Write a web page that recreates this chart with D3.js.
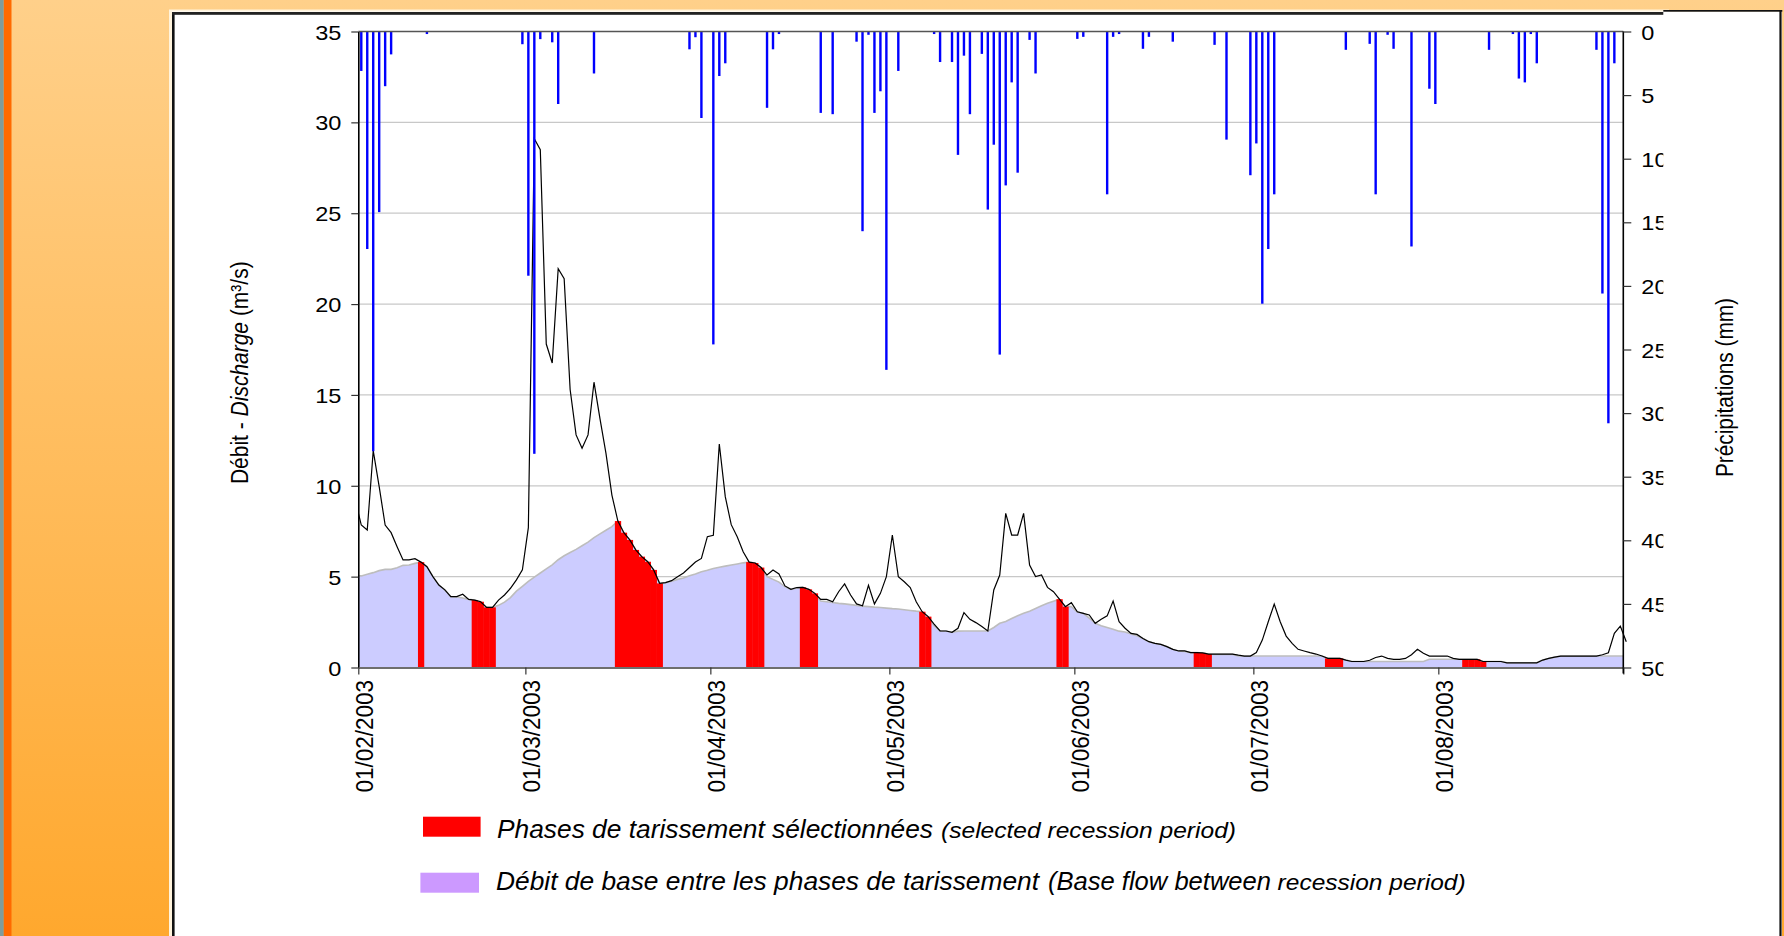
<!DOCTYPE html>
<html><head><meta charset="utf-8">
<script src="https://cdn.jsdelivr.net/npm/d3@7"></script>
<style>
html,body{margin:0;padding:0;background:#fff;}
svg{display:block;}
text{font-family:"Liberation Sans", Arial, sans-serif;fill:#000;}
</style></head><body>
<svg id="chart" width="1784" height="936"></svg>
<script>
// ---------------- DATA ----------------
// Daily discharge (m3/s), from 31/01/2003 to 01/09/2003 (edges are clipped by the plot)
const dischargeStart = "2003-01-31";
const discharge = [9.2,
  7.84, 7.57, 11.93, 9.95, 7.84, 7.42, 6.65, 5.92, 5.92, 5.99,
  5.8, 5.55, 5.0, 4.54, 4.27, 3.9, 3.9, 4.03, 3.75, 3.71,
  3.62, 3.31, 3.31, 3.71, 3.99, 4.36, 4.82, 5.37, 7.7, 29.1,
  28.5, 17.8, 16.76, 21.95, 21.4, 15.3, 12.8, 12.06, 12.8, 15.7,
  13.7, 11.8, 9.49, 8.06, 7.42, 7.02, 6.47, 6.1, 5.82, 5.37,
  4.63, 4.67, 4.78, 5.0, 5.2, 5.5, 5.8, 6.0, 7.2, 7.28,
  12.3, 9.4, 7.86, 7.2, 6.37, 5.8, 5.75, 5.5, 5.09, 5.37,
  5.15, 4.49, 4.3, 4.4, 4.41, 4.3, 4.08, 3.75, 3.75, 3.62,
  4.17, 4.6, 3.99, 3.5, 3.4, 4.52, 3.5, 4.08, 5.0, 7.29,
  5.0, 4.72, 4.4, 3.62, 3.07, 2.8, 2.39, 2.01, 2.01, 1.94,
  2.16, 3.02, 2.65, 2.47, 2.25, 2.01, 4.27, 5.09, 8.48, 7.29,
  7.29, 8.48, 5.64, 5.0, 5.09, 4.41, 4.17, 3.76, 3.35, 3.57,
  3.07, 2.98, 2.89, 2.43, 2.65, 2.84, 3.66, 2.52, 2.16, 1.88,
  1.82, 1.6, 1.42, 1.33, 1.27, 1.15, 1.0, 0.91, 0.91, 0.82,
  0.82, 0.8, 0.74, 0.74, 0.74, 0.74, 0.74, 0.68, 0.63, 0.63,
  0.82, 1.51, 2.52, 3.49, 2.52, 1.73, 1.33, 1.0, 0.91, 0.82,
  0.74, 0.63, 0.5, 0.5, 0.5, 0.41, 0.33, 0.33, 0.33, 0.4,
  0.55, 0.63, 0.5, 0.45, 0.45, 0.5, 0.7, 1.0, 0.78, 0.63,
  0.63, 0.63, 0.63, 0.5, 0.45, 0.45, 0.45, 0.45, 0.33, 0.33,
  0.33, 0.33, 0.26, 0.26, 0.26, 0.26, 0.26, 0.26, 0.41, 0.5,
  0.57, 0.63, 0.63, 0.63, 0.63, 0.63, 0.63, 0.63, 0.7, 0.81,
  1.88, 2.28,
  1.42];

// Base flow between recession phases (m3/s), daily from 01/02/2003
const seriesStart = "2003-02-01";
const baseflow = [
  5.04, 5.13, 5.22, 5.33, 5.4, 5.4, 5.49, 5.62, 5.64, 5.73,
  5.8, 5.55, 5.0, 4.54, 4.27, 3.9, 3.88, 3.82, 3.75, 3.71,
  3.62, 3.31, 3.31, 3.42, 3.6, 3.85, 4.2, 4.47, 4.74, 4.97,
  5.2, 5.43, 5.65, 5.93, 6.15, 6.33, 6.5, 6.7, 6.9, 7.15,
  7.35, 7.55, 7.75, 8.06, 7.42, 7.02, 6.47, 6.1, 5.82, 5.37,
  4.63, 4.67, 4.75, 4.85, 4.92, 5.05, 5.15, 5.27, 5.35, 5.45,
  5.52, 5.58, 5.64, 5.7, 5.76, 5.8, 5.75, 5.5, 5.0, 4.85,
  4.7, 4.45, 4.3, 4.38, 4.41, 4.3, 4.08, 3.66, 3.62, 3.58,
  3.53, 3.5, 3.46, 3.42, 3.38, 3.35, 3.32, 3.3, 3.27, 3.24,
  3.22, 3.18, 3.14, 3.1, 3.07, 2.8, 2.3, 2.01, 2.01, 1.94,
  2.0, 2.01, 2.01, 2.01, 2.01, 2.01, 2.2, 2.43, 2.53, 2.7,
  2.85, 2.98, 3.1, 3.25, 3.4, 3.53, 3.65, 3.76, 3.35, 3.35,
  3.05, 2.98, 2.72, 2.43, 2.3, 2.2, 2.1, 2.0, 1.95, 1.85,
  1.75, 1.6, 1.42, 1.33, 1.27, 1.15, 1.0, 0.91, 0.88, 0.82,
  0.82, 0.8, 0.74, 0.72, 0.72, 0.72, 0.72, 0.63, 0.63, 0.63,
  0.63, 0.63, 0.63, 0.63, 0.63, 0.63, 0.63, 0.63, 0.63, 0.63,
  0.63, 0.63, 0.5, 0.5, 0.5, 0.41, 0.33, 0.33, 0.33, 0.33,
  0.33, 0.33, 0.33, 0.33, 0.33, 0.33, 0.33, 0.33, 0.33, 0.45,
  0.45, 0.45, 0.45, 0.45, 0.45, 0.45, 0.45, 0.45, 0.33, 0.33,
  0.33, 0.33, 0.26, 0.26, 0.26, 0.26, 0.26, 0.26, 0.41, 0.5,
  0.57, 0.63, 0.63, 0.63, 0.63, 0.63, 0.63, 0.63, 0.63, 0.63,
  0.63, 0.63];

// Daily precipitation (mm), from 01/02/2003
const rainfall = [
  3.1, 17.1, 33.0, 14.2, 4.3, 1.8, 0, 0, 0, 0,
  0, 0.2, 0, 0, 0, 0, 0, 0, 0, 0,
  0, 0, 0, 0, 0, 0, 0, 1.0, 19.2, 33.2,
  0.6, 0, 0.85, 5.7, 0, 0, 0, 0, 0, 3.3,
  0, 0, 0, 0, 0, 0, 0, 0, 0, 0,
  0, 0, 0, 0, 0, 1.4, 0.45, 6.8, 0, 24.6,
  3.5, 2.5, 0, 0, 0, 0, 0, 0, 6.0, 1.4,
  0.2, 0, 0, 0, 0, 0, 0, 6.4, 0, 6.5,
  0, 0, 0, 0.8, 15.7, 0.26, 6.4, 4.7, 26.6, 0,
  3.1, 0, 0, 0, 0, 0, 0.2, 2.4, 0, 2.4,
  9.7, 1.9, 6.5, 0, 1.76, 14.0, 8.9, 25.4, 12.1, 4.0,
  11.1, 0, 0.66, 3.3, 0, 0, 0, 0, 0, 0,
  0.58, 0.42, 0, 0, 0, 12.8, 0.42, 0.2, 0, 0,
  0, 1.36, 0.42, 0, 0, 0, 0.8, 0, 0, 0,
  0, 0, 0, 1.05, 0, 8.5, 0, 0, 0, 11.3,
  8.8, 21.4, 17.1, 12.8, 0, 0, 0, 0, 0, 0,
  0, 0, 0, 0, 0, 1.44, 0, 0, 0, 0.97,
  12.8, 0, 0.26, 1.36, 0, 0, 16.9, 0, 0, 4.5,
  5.7, 0, 0, 0, 0, 0, 0, 0, 0, 1.44,
  0, 0, 0, 0.2, 3.7, 4.0, 0.2, 2.5, 0, 0,
  0, 0, 0, 0, 0, 0, 0, 1.44, 20.6, 30.8,
  2.5, 0];

// Selected recession periods (first day, last day)
const recessionPeriods = [
  ["2003-02-11", "2003-02-11"],
  ["2003-02-20", "2003-02-23"],
  ["2003-03-16", "2003-03-23"],
  ["2003-04-07", "2003-04-09"],
  ["2003-04-16", "2003-04-18"],
  ["2003-05-06", "2003-05-07"],
  ["2003-05-29", "2003-05-30"],
  ["2003-06-21", "2003-06-23"],
  ["2003-07-13", "2003-07-15"],
  ["2003-08-05", "2003-08-08"]
];

const xDomain = ["2003-02-01", "2003-09-01"];
const xTickLabels = ["01/02/2003", "01/03/2003", "01/04/2003", "01/05/2003", "01/06/2003", "01/07/2003", "01/08/2003"];
const leftTicks = [0, 5, 10, 15, 20, 25, 30, 35];
const rightTicks = [0, 5, 10, 15, 20, 25, 30, 35, 40, 45, 50];

const legendItems = [
  {main: "Phases de tarissement sélectionnées", extra: [["(selected recession period)", "small"]], color: "#FF0000"},
  {main: "Débit de base entre les phases de tarissement", extra: [["(Base flow between", "big"], ["recession period)", "small"]], color: "#CC99FF"}
];

// ---------------- DRAW ----------------
const svg = d3.select("#chart");
const W = 1784, H = 936;
const P = {left: 358.3, right: 1623.3, top: 31.5, bottom: 667.5};
const parse = d3.utcParse("%Y-%m-%d");
const parseTick = d3.utcParse("%d/%m/%Y");

const defs = svg.append("defs");
const grad = defs.append("linearGradient").attr("id", "bg").attr("x1", 0).attr("y1", 0).attr("x2", 0).attr("y2", 1);
grad.append("stop").attr("offset", "0%").attr("stop-color", "#FFD08A");
grad.append("stop").attr("offset", "100%").attr("stop-color", "#FFA82E");
defs.append("clipPath").attr("id", "plotClip").append("rect")
  .attr("x", P.left).attr("y", 0).attr("width", P.right - P.left + 4).attr("height", P.bottom);

// background frame
svg.append("rect").attr("width", W).attr("height", H).attr("fill", "url(#bg)");
svg.append("rect").attr("x", 0).attr("y", 0).attr("width", 3.8).attr("height", H).attr("fill", "#7F9C9C");
svg.append("rect").attr("x", 3.8).attr("y", 0).attr("width", 7.7).attr("height", H).attr("fill", "#FF6A00");
svg.append("rect").attr("x", 169).attr("y", 9.5).attr("width", 1500).attr("height", H).attr("fill", "#FFF3DC");
svg.append("rect").attr("x", 172).attr("y", 11.5).attr("width", 1610).attr("height", H).attr("fill", "#fff");
svg.append("rect").attr("x", 172).attr("y", 12).attr("width", 2.6).attr("height", H).attr("fill", "#111");
svg.append("rect").attr("x", 172).attr("y", 12).attr("width", 1492).attr("height", 2.8).attr("fill", "#222");

// scales
const x = d3.scaleUtc().domain(xDomain.map(parse)).range([P.left, P.right]);
const yQ = d3.scaleLinear().domain([0, 35]).range([P.bottom, P.top]);
const yP = d3.scaleLinear().domain([0, 50]).range([P.top, P.bottom]);
const mid = d => x(d3.utcHour.offset(d, 12));

// gridlines
svg.append("g").selectAll("line").data(leftTicks.filter(v => v > 0 && v < 35)).join("line")
  .attr("x1", P.left).attr("x2", P.right).attr("y1", d => yQ(d)).attr("y2", d => yQ(d))
  .attr("stroke", "#C8C8C8").attr("stroke-width", 1.3);

// base flow area
const start = parse(seriesStart);
const basePts = baseflow.map((v, i) => ({x: mid(d3.utcDay.offset(start, i)), v}));
const basePath = [{x: P.left, v: baseflow[0]}, ...basePts, {x: P.right, v: baseflow[baseflow.length - 1]}];
svg.append("path").datum(basePath)
  .attr("d", d3.area().x(d => d.x).y0(yQ(0)).y1(d => yQ(d.v)))
  .attr("fill", "#CCCCFF");
svg.append("path").datum(basePath)
  .attr("d", d3.line().x(d => d.x).y(d => yQ(d.v)))
  .attr("fill", "none").attr("stroke", "#BDBDBD").attr("stroke-width", 1.6);

// recession columns
const qStart = parse(dischargeStart);
const recDays = recessionPeriods.flatMap(([a, b]) => d3.utcDay.range(parse(a), d3.utcDay.offset(parse(b), 1)))
  .map(d => ({date: d, v: discharge[d3.utcDay.count(qStart, d)]}));
svg.append("g").selectAll("rect").data(recDays).join("rect")
  .attr("x", d => x(d.date)).attr("width", d => x(d3.utcDay.offset(d.date, 1)) - x(d.date) + 0.3)
  .attr("y", d => yQ(d.v)).attr("height", d => yQ(0) - yQ(d.v))
  .attr("fill", "#FF0000");

// discharge line
const qPts = discharge.map((v, i) => ({x: mid(d3.utcDay.offset(qStart, i)), v}));
svg.append("path").datum(qPts).attr("clip-path", "url(#plotClip)")
  .attr("d", d3.line().x(d => d.x).y(d => yQ(d.v)))
  .attr("fill", "none").attr("stroke", "#000").attr("stroke-width", 1.2);

// rainfall bars (reversed axis from top)
const rainPts = rainfall.map((v, i) => ({date: d3.utcDay.offset(start, i), v})).filter(d => d.v > 0);
svg.append("g").selectAll("rect").data(rainPts).join("rect")
  .attr("x", d => mid(d.date) - 1.2).attr("width", 2.4)
  .attr("y", yP(0)).attr("height", d => yP(d.v) - yP(0))
  .attr("fill", "#0000FF");

// top line of plot
svg.append("line").attr("x1", P.left).attr("x2", P.right).attr("y1", P.top).attr("y2", P.top)
  .attr("stroke", "#555").attr("stroke-width", 1.6);

function stretchText(sel, f) {
  sel.each(function () {
    const w = this.getComputedTextLength();
    d3.select(this).attr("textLength", w * f).attr("lengthAdjust", "spacingAndGlyphs");
  });
}

// left axis
const gL = svg.append("g").attr("transform", `translate(${P.left},0)`)
  .call(d3.axisLeft(yQ).tickValues(leftTicks).tickSize(7).tickSizeOuter(0).tickPadding(10).tickFormat(d3.format("d")));
gL.select(".domain").attr("stroke", "#000").attr("stroke-width", 1.6);
gL.selectAll(".tick line").attr("stroke", "#333").attr("stroke-width", 1.2);
gL.selectAll(".tick text").attr("font-size", 21).attr("font-family", "Liberation Sans, Arial, sans-serif").attr("dy", "0.36em");
stretchText(gL.selectAll(".tick text"), 1.12);

// bottom axis
const tickDates = [...xTickLabels.map(parseTick), parse(xDomain[1])];
const gB = svg.append("g").attr("transform", `translate(0,${P.bottom})`)
  .call(d3.axisBottom(x).tickValues(tickDates).tickSize(7).tickSizeOuter(0)
    .tickFormat((d, i) => xTickLabels[i] || ""));
gB.select(".domain").attr("stroke", "#6E6E6E").attr("stroke-width", 2);
gB.selectAll(".tick line").attr("stroke", "#333").attr("stroke-width", 1.2);
gB.selectAll(".tick text").attr("font-size", 22.5).attr("font-family", "Liberation Sans, Arial, sans-serif")
  .attr("x", 0).attr("y", 0).attr("dy", null).attr("text-anchor", "end")
  .attr("transform", "translate(13.9,12.5) rotate(-90) scale(1,1.1)");

// right axis
const gR = svg.append("g").attr("transform", `translate(${P.right},0)`)
  .call(d3.axisRight(yP).tickValues(rightTicks).tickSize(8).tickSizeOuter(0).tickPadding(10).tickFormat(d3.format("d")));
gR.select(".domain").attr("stroke", "#000").attr("stroke-width", 1.6)
  .attr("d", `M0,${P.top}V${P.bottom + 6}`);
gR.selectAll(".tick line").attr("stroke", "#333").attr("stroke-width", 1.2);
gR.selectAll(".tick text").attr("font-size", 21).attr("font-family", "Liberation Sans, Arial, sans-serif").attr("dy", "0.36em");
stretchText(gR.selectAll(".tick text"), 1.12);

// overlapping white box on the right (hides part of the tick labels)
svg.append("rect").attr("x", 1663.3).attr("y", 11.5).attr("width", 117).attr("height", H).attr("fill", "#fff");
svg.append("rect").attr("x", 1663.3).attr("y", 10).attr("width", 119).attr("height", 1.7).attr("fill", "#111");
svg.append("rect").attr("x", 1779.4).attr("y", 10).attr("width", 2.2).attr("height", H).attr("fill", "#111");

// axis titles
const tL = svg.append("text").attr("font-size", 21).attr("text-anchor", "middle")
  .attr("transform", "translate(247.5,372.7) rotate(-90) scale(1,1.15)");
tL.append("tspan").text("Débit - ");
tL.append("tspan").attr("font-style", "italic").text("Discharge");
tL.append("tspan").text(" (m³/s)");

svg.append("text").attr("font-size", 21).attr("text-anchor", "middle")
  .attr("transform", "translate(1733,387.5) rotate(-90) scale(1,1.1)")
  .attr("textLength", 179).attr("lengthAdjust", "spacingAndGlyphs")
  .text("Précipitations (mm)");

// legend
const legendLayout = [
  {sw: [423, 816.7, 57.6, 20], base: 838.3, mainX: 497, mainW: 436, extra: [[941, 295]]},
  {sw: [420.4, 872.7, 58.6, 20], base: 890, mainX: 496, mainW: 543, extra: [[1048, 223], [1277.6, 188]]}
];
legendItems.forEach((it, k) => {
  const L = legendLayout[k];
  svg.append("rect").attr("x", L.sw[0]).attr("y", L.sw[1]).attr("width", L.sw[2]).attr("height", L.sw[3]).attr("fill", it.color);
  svg.append("text").attr("x", L.mainX).attr("y", L.base).attr("font-size", 25.5).attr("font-style", "italic")
    .attr("textLength", L.mainW).attr("lengthAdjust", "spacingAndGlyphs").text(it.main);
  it.extra.forEach(([txt, size], j) => {
    svg.append("text").attr("x", L.extra[j][0]).attr("y", L.base)
      .attr("font-size", size === "big" ? 25.5 : 22.5).attr("font-style", "italic")
      .attr("textLength", L.extra[j][1]).attr("lengthAdjust", "spacingAndGlyphs").text(txt);
  });
});
</script>
</body></html>
